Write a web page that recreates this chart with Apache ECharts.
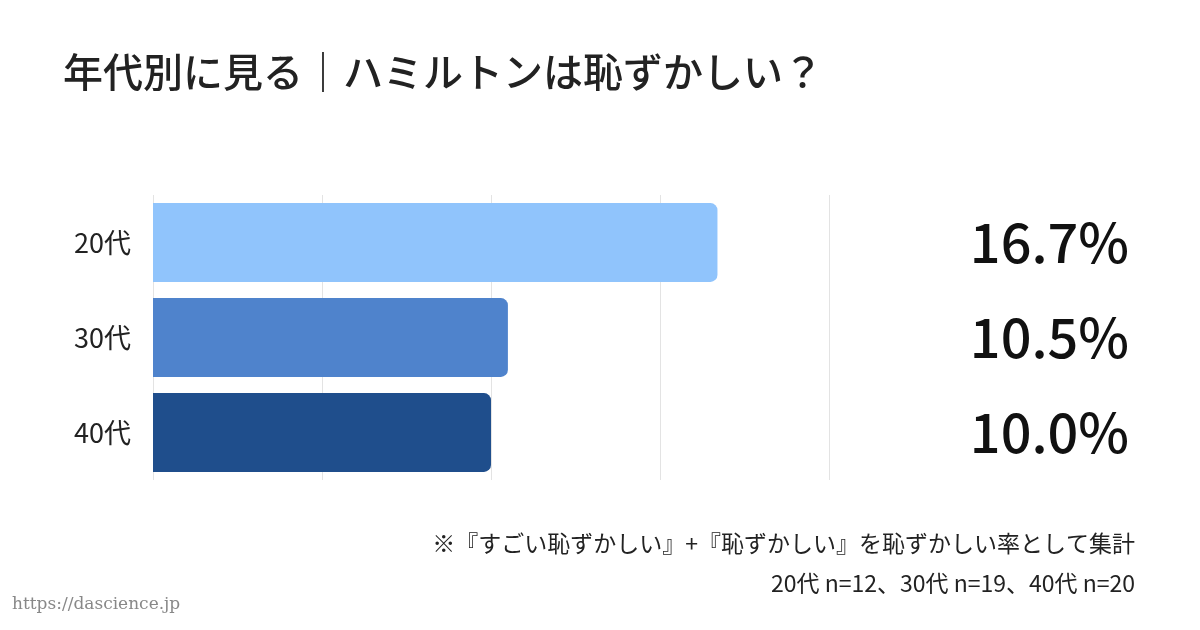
<!DOCTYPE html>
<html><head><meta charset="utf-8">
<script src="https://cdn.jsdelivr.net/npm/echarts@6/dist/echarts.min.js"></script>
<style>html,body{margin:0;background:#fff}#c{width:1200px;height:630px}</style>
</head><body><div id="c"></div>
<script>
const categories = ['20代', '30代', '40代']
const values = [16.7, 10.5, 10.0]
const colors = ['#90c4fc', '#4f83cc', '#1f4e8c']
const font = '"Noto Sans CJK JP", "Noto Sans", sans-serif'

const chart = echarts.init(document.getElementById('c'))
chart.setOption({
  backgroundColor: '#fff',
  animation: false,
  grid: { left: 153, right: 371, top: 195, bottom: 150 },
  xAxis: {
    type: 'value', min: 0, max: 20, interval: 5,
    axisLabel: { show: false }, axisLine: { show: false }, axisTick: { show: false },
    splitLine: { lineStyle: { color: '#e3e3e3' } }
  },
  yAxis: [{
    type: 'category', inverse: true, data: categories,
    axisLine: { show: false }, axisTick: { show: false },
    axisLabel: { color: '#222', fontSize: 27, fontFamily: font, margin: 22, letterSpacing: 4 }
  }, {
    type: 'category', inverse: true, data: values.map(v => v.toFixed(1) + '%'),
    position: 'right', offset: 0,
    axisLine: { show: false }, axisTick: { show: false },
    axisLabel: { color: '#111', fontSize: 54, fontFamily: font, fontWeight: 500, margin: 0,
      align: 'right', letterSpacing: 7, padding: [0, -300, 0, 0] }
  }],
  series: [{
    type: 'bar', barCategoryGap: '17%',
    data: values.map((v, i) => ({ value: v, itemStyle: { color: colors[i] } })),
    itemStyle: { borderRadius: [0, 7, 7, 0] }
  }],
  graphic: [
    { type: 'text', left: 63, top: 52, style: { text: '年代別に見る｜ハミルトンは恥ずかしい？', fontSize: 40, fontWeight: 500, fontFamily: font, fill: '#222', letterSpacing: 8 } },
    { type: 'text', right: 65, top: 532, style: { text: '※『すごい恥ずかしい』+『恥ずかしい』を恥ずかしい率として集計', fontSize: 23, fontFamily: font, fill: '#222', letterSpacing: 3.5 } },
    { type: 'text', right: 65, top: 572, style: { text: '20代 n=12、30代 n=19、40代 n=20', fontSize: 23, fontFamily: font, fill: '#222', letterSpacing: 7 } },
    { type: 'text', left: 12, top: 596, style: { text: 'https://dascience.jp', fontSize: 17, fontFamily: '"DejaVu Serif", "Liberation Serif", serif', fill: '#888' } }
  ]
})
</script></body></html>
